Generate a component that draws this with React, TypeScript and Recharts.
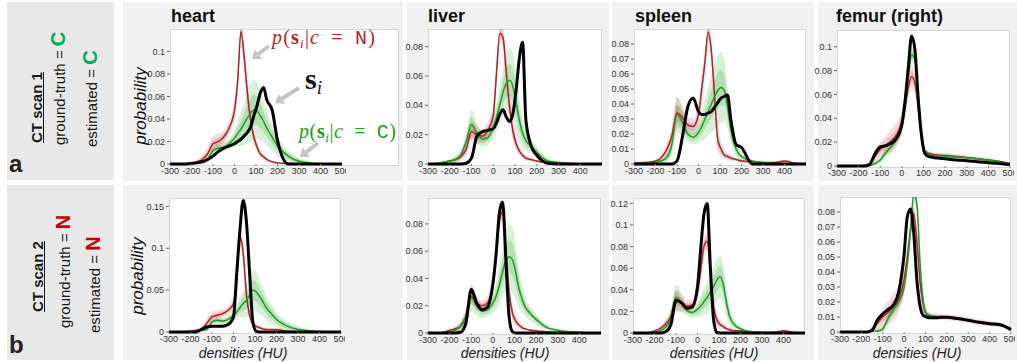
import { ComposedChart, Line, Area, XAxis, YAxis } from "recharts"

const densities = [-300, -250, -200, -175, -150, -125, -100, -75, -50, -25, 0, 15, 30, 45, 60, 75, 90, 105, 120, 135, 150, 175, 200, 250, 300, 350, 400, 450, 500]
const xTicks = [-300, -200, -100, 0, 100, 200, 300, 400, 500]
const xTicksCut = [-300, -200, -100, 0, 100, 200, 300, 400]

// ---- CT scan 1 ----
const heartA_red = [0, 0, 0.0006, 0.002, 0.004, 0.009, 0.018, 0.02, 0.024, 0.032, 0.048, 0.074, 0.118, 0.095, 0.063, 0.039, 0.024, 0.015, 0.009, 0.0065, 0.004, 0.002, 0.001, 0.0005, 0, 0, 0, 0, 0]
const heartA_redSpread = [0, 0, 0.001, 0.002, 0.004, 0.006, 0.007, 0.007, 0.006, 0.006, 0.008, 0.012, 0.006, 0.012, 0.012, 0.009, 0.006, 0.004, 0.003, 0.002, 0.002, 0.001, 0.001, 0.0005, 0, 0, 0, 0, 0]
const heartA_green = [0, 0, 0.0005, 0.001, 0.002, 0.004, 0.012, 0.014, 0.015, 0.018, 0.023, 0.027, 0.031, 0.036, 0.041, 0.045, 0.048, 0.047, 0.043, 0.038, 0.032, 0.024, 0.016, 0.007, 0.0025, 0.001, 0, 0, 0]
const heartA_greenSpread = [0, 0, 0.0005, 0.001, 0.002, 0.003, 0.004, 0.004, 0.004, 0.005, 0.007, 0.011, 0.015, 0.019, 0.023, 0.026, 0.027, 0.025, 0.022, 0.018, 0.015, 0.012, 0.009, 0.005, 0.003, 0.0015, 0.0005, 0, 0]
const heartA_scan = [0, 0, 0.0005, 0.001, 0.002, 0.004, 0.007, 0.011, 0.014, 0.016, 0.018, 0.02, 0.022, 0.025, 0.028, 0.033, 0.043, 0.052, 0.063, 0.068, 0.057, 0.048, 0.021, 0, 0, 0, 0, 0, 0]

const liverA_red = [0, 0.0005, 0.002, 0.003, 0.005, 0.01, 0.022, 0.02, 0.019, 0.023, 0.033, 0.062, 0.089, 0.086, 0.062, 0.039, 0.023, 0.014, 0.009, 0.006, 0.004, 0.003, 0.002, 0.001, 0.0005, 0, 0, 0, 0]
const liverA_redSpread = [0, 0, 0.001, 0.002, 0.003, 0.005, 0.007, 0.006, 0.005, 0.006, 0.008, 0.01, 0.006, 0.008, 0.012, 0.01, 0.007, 0.005, 0.003, 0.002, 0.002, 0.001, 0.001, 0.0005, 0, 0, 0, 0, 0]
const liverA_green = [0, 0.0005, 0.002, 0.003, 0.006, 0.015, 0.027, 0.021, 0.017, 0.018, 0.025, 0.032, 0.04, 0.049, 0.055, 0.057, 0.053, 0.042, 0.03, 0.021, 0.016, 0.012, 0.008, 0.002, 0.001, 0.0005, 0, 0, 0]
const liverA_greenSpread = [0, 0, 0.001, 0.002, 0.003, 0.006, 0.01, 0.007, 0.005, 0.005, 0.007, 0.01, 0.013, 0.016, 0.02, 0.022, 0.022, 0.02, 0.015, 0.01, 0.007, 0.005, 0.004, 0.002, 0.001, 0.0005, 0, 0, 0]
const liverA_scan = [0, 0, 0, 0, 0, 0.0005, 0.004, 0.019, 0.022, 0.023, 0.024, 0.028, 0.034, 0.037, 0.032, 0.029, 0.034, 0.05, 0.072, 0.083, 0.03, 0.012, 0.006, 0.0005, 0, 0, 0, 0, 0]

const spleenA_red = [0.0005, 0.001, 0.002, 0.004, 0.009, 0.018, 0.034, 0.031, 0.026, 0.025, 0.033, 0.05, 0.068, 0.088, 0.075, 0.045, 0.016, 0.01, 0.006, 0.005, 0.004, 0.003, 0.002, 0.0015, 0.001, 0.001, 0.002, 0.0005, 0]
const spleenA_redSpread = [0, 0, 0.001, 0.002, 0.004, 0.007, 0.01, 0.008, 0.005, 0.005, 0.008, 0.01, 0.008, 0.005, 0.008, 0.01, 0.008, 0.005, 0.003, 0.002, 0.002, 0.001, 0.001, 0.001, 0.0005, 0.0005, 0.001, 0, 0]
const spleenA_green = [0, 0.0005, 0.001, 0.002, 0.004, 0.012, 0.033, 0.028, 0.02, 0.018, 0.021, 0.025, 0.03, 0.035, 0.04, 0.045, 0.049, 0.051, 0.049, 0.038, 0.023, 0.01, 0.005, 0.002, 0.001, 0.0005, 0, 0, 0]
const spleenA_greenSpread = [0, 0, 0.0005, 0.001, 0.003, 0.006, 0.012, 0.009, 0.005, 0.005, 0.007, 0.01, 0.013, 0.016, 0.019, 0.022, 0.024, 0.024, 0.02, 0.014, 0.009, 0.005, 0.003, 0.001, 0.0005, 0, 0, 0, 0]
const spleenA_scan = [0, 0, 0, 0, 0, 0, 0.002, 0.018, 0.038, 0.044, 0.035, 0.033, 0.033, 0.034, 0.035, 0.038, 0.041, 0.044, 0.045, 0.046, 0.03, 0.013, 0.011, 0, 0, 0, 0, 0, 0]

const femurA_red = [0, 0, 0, 0.0005, 0.002, 0.008, 0.014, 0.017, 0.021, 0.026, 0.037, 0.05, 0.066, 0.075, 0.07, 0.05, 0.025, 0.013, 0.011, 0.01, 0.0095, 0.009, 0.0088, 0.008, 0.007, 0.006, 0.005, 0.004, 0.002]
const femurA_redSpread = [0, 0, 0, 0.001, 0.002, 0.005, 0.006, 0.008, 0.01, 0.01, 0.01, 0.01, 0.01, 0.01, 0.01, 0.01, 0.007, 0.003, 0.002, 0.002, 0.002, 0.002, 0.002, 0.002, 0.002, 0.002, 0.002, 0.001, 0.001]
const femurA_green = [0, 0, 0, 0, 0.0005, 0.002, 0.005, 0.011, 0.016, 0.022, 0.033, 0.05, 0.075, 0.093, 0.09, 0.06, 0.026, 0.012, 0.01, 0.009, 0.0088, 0.0085, 0.008, 0.0075, 0.007, 0.006, 0.005, 0.0035, 0.002]
const femurA_greenSpread = [0, 0, 0, 0, 0.001, 0.002, 0.003, 0.004, 0.004, 0.004, 0.005, 0.006, 0.006, 0.006, 0.006, 0.006, 0.005, 0.002, 0.001, 0.001, 0.001, 0.001, 0.001, 0.001, 0.001, 0.001, 0.001, 0.001, 0.0005]
const femurA_scan = [0, 0, 0, 0, 0.001, 0.01, 0.016, 0.017, 0.019, 0.023, 0.035, 0.055, 0.083, 0.109, 0.098, 0.058, 0.027, 0.011, 0.008, 0.0075, 0.007, 0.0065, 0.006, 0.005, 0.0045, 0.0035, 0.0028, 0.002, 0.001]

// ---- CT scan 2 ----
const heartB_red = [0, 0, 0.001, 0.002, 0.003, 0.01, 0.018, 0.02, 0.022, 0.026, 0.034, 0.062, 0.113, 0.095, 0.045, 0.02, 0.01, 0.007, 0.005, 0.004, 0.003, 0.003, 0.003, 0.001, 0, 0, 0, 0, 0]
const heartB_redSpread = [0, 0, 0.001, 0.002, 0.004, 0.006, 0.007, 0.006, 0.005, 0.005, 0.008, 0.014, 0.01, 0.014, 0.012, 0.007, 0.004, 0.003, 0.002, 0.002, 0.001, 0.001, 0.001, 0.0005, 0, 0, 0, 0, 0]
const heartB_green = [0, 0, 0.0005, 0.001, 0.002, 0.003, 0.012, 0.014, 0.013, 0.015, 0.02, 0.024, 0.029, 0.034, 0.038, 0.044, 0.05, 0.048, 0.043, 0.037, 0.03, 0.022, 0.015, 0.007, 0.003, 0.0015, 0.0005, 0, 0]
const heartB_greenSpread = [0, 0, 0.0005, 0.001, 0.002, 0.003, 0.004, 0.004, 0.004, 0.005, 0.007, 0.009, 0.012, 0.016, 0.02, 0.023, 0.025, 0.024, 0.021, 0.018, 0.015, 0.012, 0.009, 0.006, 0.004, 0.002, 0.001, 0, 0]
const heartB_scan = [0, 0, 0, 0, 0.003, 0.006, 0.007, 0.007, 0.007, 0.009, 0.018, 0.07, 0.122, 0.157, 0.132, 0.07, 0.012, 0.001, 0, 0, 0, 0, 0, 0, 0, 0, 0, 0, 0]

const liverB_red = [0, 0, 0.002, 0.003, 0.005, 0.012, 0.027, 0.022, 0.02, 0.022, 0.036, 0.056, 0.082, 0.089, 0.06, 0.03, 0.015, 0.009, 0.006, 0.004, 0.003, 0.002, 0.0015, 0.001, 0.0005, 0, 0, 0, 0]
const liverB_redSpread = [0, 0, 0.001, 0.002, 0.003, 0.005, 0.006, 0.005, 0.004, 0.005, 0.007, 0.009, 0.007, 0.007, 0.01, 0.009, 0.006, 0.004, 0.003, 0.002, 0.001, 0.001, 0.001, 0.0005, 0, 0, 0, 0, 0]
const liverB_green = [0, 0, 0.001, 0.002, 0.005, 0.012, 0.026, 0.02, 0.016, 0.017, 0.022, 0.027, 0.035, 0.045, 0.053, 0.056, 0.054, 0.045, 0.033, 0.025, 0.019, 0.014, 0.01, 0.004, 0.002, 0.001, 0.0005, 0, 0]
const liverB_greenSpread = [0, 0, 0.001, 0.002, 0.003, 0.006, 0.01, 0.007, 0.005, 0.005, 0.007, 0.01, 0.014, 0.018, 0.022, 0.024, 0.024, 0.02, 0.015, 0.01, 0.007, 0.005, 0.004, 0.002, 0.001, 0.0005, 0, 0, 0]
const liverB_scan = [0, 0, 0, 0, 0.0005, 0.007, 0.032, 0.022, 0.017, 0.019, 0.036, 0.058, 0.088, 0.096, 0.054, 0.012, 0.001, 0, 0, 0, 0, 0, 0, 0, 0, 0, 0, 0, 0]

const spleenB_red = [0, 0, 0.002, 0.004, 0.008, 0.015, 0.03, 0.028, 0.025, 0.026, 0.038, 0.058, 0.08, 0.085, 0.055, 0.025, 0.012, 0.008, 0.006, 0.004, 0.003, 0.002, 0.002, 0.001, 0.0005, 0.0005, 0.002, 0.0005, 0]
const spleenB_redSpread = [0, 0, 0.001, 0.002, 0.004, 0.007, 0.01, 0.008, 0.005, 0.005, 0.008, 0.012, 0.01, 0.008, 0.01, 0.01, 0.007, 0.004, 0.003, 0.002, 0.002, 0.001, 0.001, 0.001, 0.0005, 0.0005, 0.001, 0, 0]
const spleenB_green = [0, 0, 0.001, 0.002, 0.005, 0.013, 0.033, 0.028, 0.021, 0.019, 0.022, 0.025, 0.029, 0.033, 0.038, 0.043, 0.049, 0.052, 0.045, 0.028, 0.015, 0.007, 0.004, 0.001, 0.0005, 0, 0, 0, 0]
const spleenB_greenSpread = [0, 0, 0.0005, 0.001, 0.003, 0.006, 0.012, 0.009, 0.005, 0.005, 0.007, 0.01, 0.012, 0.014, 0.016, 0.018, 0.02, 0.02, 0.018, 0.013, 0.008, 0.004, 0.002, 0.001, 0.0005, 0, 0, 0, 0]
const spleenB_scan = [0, 0, 0, 0, 0.001, 0.007, 0.03, 0.028, 0.023, 0.024, 0.043, 0.078, 0.11, 0.12, 0.06, 0.012, 0.0005, 0, 0, 0, 0, 0, 0, 0, 0, 0, 0, 0, 0]

const femurB_red = [0, 0, 0, 0, 0.002, 0.006, 0.01, 0.013, 0.017, 0.022, 0.035, 0.05, 0.068, 0.079, 0.06, 0.033, 0.018, 0.012, 0.011, 0.0105, 0.0102, 0.01, 0.0098, 0.009, 0.0078, 0.0066, 0.0056, 0.0045, 0.0025]
const femurB_redSpread = [0, 0, 0, 0.001, 0.002, 0.004, 0.006, 0.008, 0.009, 0.009, 0.009, 0.009, 0.008, 0.008, 0.008, 0.008, 0.006, 0.003, 0.002, 0.002, 0.002, 0.002, 0.002, 0.002, 0.002, 0.002, 0.002, 0.001, 0.001]
const femurB_green = [0, 0, 0, 0, 0, 0.0005, 0.002, 0.009, 0.015, 0.02, 0.03, 0.045, 0.068, 0.092, 0.085, 0.045, 0.02, 0.012, 0.011, 0.0105, 0.0103, 0.01, 0.0097, 0.009, 0.0077, 0.0065, 0.0055, 0.0045, 0.0025]
const femurB_greenSpread = [0, 0, 0, 0, 0.001, 0.002, 0.003, 0.004, 0.004, 0.004, 0.005, 0.006, 0.006, 0.006, 0.006, 0.006, 0.005, 0.002, 0.001, 0.001, 0.001, 0.001, 0.001, 0.001, 0.001, 0.001, 0.001, 0.001, 0.0005]
const femurB_scan = [0, 0, 0, 0, 0.001, 0.008, 0.012, 0.015, 0.018, 0.027, 0.052, 0.077, 0.082, 0.066, 0.034, 0.017, 0.011, 0.01, 0.0095, 0.0095, 0.0095, 0.0098, 0.0098, 0.009, 0.0078, 0.0065, 0.0055, 0.0048, 0.0015]

const RED = "#b0232b"
const GREEN = "#1f9b22"
const FONT = '"Liberation Sans", Arial, sans-serif'
const SERIF = '"Liberation Serif", "DejaVu Serif", serif'

function buildRows(red: number[], redSpread: number[], green: number[], greenSpread: number[], scan: number[]) {
  return densities.map((x, i) => ({
    x,
    red: red[i],
    green: green[i],
    scan: scan[i],
    redOuter: [Math.max(0, red[i] - redSpread[i]), red[i] + redSpread[i]],
    redInner: [Math.max(0, red[i] - redSpread[i] / 2), red[i] + redSpread[i] / 2],
    greenOuter: [Math.max(0, green[i] - greenSpread[i]), green[i] + greenSpread[i]],
    greenInner: [Math.max(0, green[i] - greenSpread[i] / 2), green[i] + greenSpread[i] / 2],
  }))
}

type PlotSpec = {
  left: number; top: number; width: number; height: number; boxWidth?: number
  ymax: number; yTicks: number[]; xTicks: number[]; rows: any[]
}

const plots: PlotSpec[] = [
  { left: 170, top: 29, width: 172, height: 135, boxWidth: 229, ymax: 0.12, yTicks: [0, 0.02, 0.04, 0.06, 0.08, 0.1], xTicks,
    rows: buildRows(heartA_red, heartA_redSpread, heartA_green, heartA_greenSpread, heartA_scan) },
  { left: 428, top: 29, width: 174, height: 135, ymax: 0.092, yTicks: [0, 0.02, 0.04, 0.06, 0.08], xTicks: xTicksCut,
    rows: buildRows(liverA_red, liverA_redSpread, liverA_green, liverA_greenSpread, liverA_scan) },
  { left: 634, top: 29, width: 172, height: 135, ymax: 0.09, yTicks: [0, 0.01, 0.02, 0.03, 0.04, 0.05, 0.06, 0.07, 0.08], xTicks: xTicksCut,
    rows: buildRows(spleenA_red, spleenA_redSpread, spleenA_green, spleenA_greenSpread, spleenA_scan) },
  { left: 837, top: 30, width: 173, height: 136, ymax: 0.114, yTicks: [0, 0.02, 0.04, 0.06, 0.08, 0.1], xTicks,
    rows: buildRows(femurA_red, femurA_redSpread, femurA_green, femurA_greenSpread, femurA_scan) },
  { left: 169, top: 198, width: 172, height: 134, ymax: 0.16, yTicks: [0, 0.05, 0.1, 0.15], xTicks,
    rows: buildRows(heartB_red, heartB_redSpread, heartB_green, heartB_greenSpread, heartB_scan) },
  { left: 428, top: 198, width: 173, height: 135, ymax: 0.099, yTicks: [0, 0.02, 0.04, 0.06, 0.08], xTicks: xTicksCut,
    rows: buildRows(liverB_red, liverB_redSpread, liverB_green, liverB_greenSpread, liverB_scan) },
  { left: 633, top: 198, width: 172, height: 135, ymax: 0.125, yTicks: [0, 0.02, 0.04, 0.06, 0.08, 0.1, 0.12], xTicks: xTicksCut,
    rows: buildRows(spleenB_red, spleenB_redSpread, spleenB_green, spleenB_greenSpread, spleenB_scan) },
  { left: 840, top: 197, width: 171, height: 135, ymax: 0.09, yTicks: [0, 0.01, 0.02, 0.03, 0.04, 0.05, 0.06, 0.07, 0.08], xTicks,
    rows: buildRows(femurB_red, femurB_redSpread, femurB_green, femurB_greenSpread, femurB_scan) },
]

const tickStyle = { fontSize: 9, fill: "#333", fontFamily: FONT }

function Plot({ p }: { p: PlotSpec }) {
  const ml = 36, mt = 6, mr = 4, xh = 18
  return (
    <>
      <div style={{ position: "absolute", left: p.left, top: p.top, width: p.boxWidth ?? p.width, height: p.height + 2, background: "#fff", border: "1px solid #d6d6d6", boxSizing: "border-box" }} />
      <div style={{ position: "absolute", left: p.left - ml, top: p.top - mt, width: p.width + ml + mr, height: p.height + mt + xh }}>
        <ComposedChart width={p.width + ml + mr} height={p.height + mt + xh} data={p.rows} margin={{ top: mt, right: mr, bottom: 0, left: 0 }}>
          <XAxis type="number" dataKey="x" domain={[-300, 500]} ticks={p.xTicks} interval={0} height={xh}
            axisLine={false} tickSize={2} tickLine={{ stroke: "#888" }} tick={tickStyle} />
          <YAxis yAxisId="main" orientation="left" width={ml} domain={[0, p.ymax]} ticks={p.yTicks} interval={0}
            axisLine={false} tickSize={3} tickLine={{ stroke: "#666" }} tick={tickStyle} tickFormatter={(v: number) => String(v)} />
          <YAxis yAxisId="clip" orientation="right" width={0} hide domain={[0, p.ymax]} allowDataOverflow />
          <Area yAxisId="clip" type="monotone" dataKey="greenOuter" stroke="none" fill="#3cae3c" fillOpacity={0.2} isAnimationActive={false} />
          <Area yAxisId="clip" type="monotone" dataKey="greenInner" stroke="none" fill="#3cae3c" fillOpacity={0.24} isAnimationActive={false} />
          <Area yAxisId="clip" type="monotone" dataKey="redOuter" stroke="none" fill="#c84848" fillOpacity={0.18} isAnimationActive={false} />
          <Area yAxisId="clip" type="monotone" dataKey="redInner" stroke="none" fill="#c84848" fillOpacity={0.22} isAnimationActive={false} />
          <Line yAxisId="clip" type="monotone" dataKey="red" stroke={RED} strokeWidth={1.5} dot={false} activeDot={false} isAnimationActive={false} />
          <Line yAxisId="clip" type="monotone" dataKey="green" stroke={GREEN} strokeWidth={1.5} dot={false} activeDot={false} isAnimationActive={false} />
          <Line yAxisId="main" type="monotone" dataKey="scan" stroke="#000" strokeWidth={3} dot={false} activeDot={false} isAnimationActive={false} />
        </ComposedChart>
      </div>
    </>
  )
}

function Arrow({ x1, y1, x2, y2 }: { x1: number; y1: number; x2: number; y2: number }) {
  const a = Math.atan2(y2 - y1, x2 - x1)
  const hx = x2 - 8 * Math.cos(a), hy = y2 - 8 * Math.sin(a)
  const nx = -Math.sin(a) * 6, ny = Math.cos(a) * 6
  return (
    <g fill="#c4c4c4" stroke="#c4c4c4">
      <line x1={x1} y1={y1} x2={hx} y2={hy} strokeWidth={4} />
      <polygon points={`${x2},${y2} ${hx + nx},${hy + ny} ${hx - nx},${hy - ny}`} strokeWidth={0} />
    </g>
  )
}

function Rot({ left, top, children, size = 15 }: { left: number; top: number; children: any; size?: number }) {
  return (
    <div style={{ position: "absolute", left, top, transform: "rotate(-90deg)", transformOrigin: "0 0", whiteSpace: "nowrap",
      fontFamily: FONT, fontSize: size, lineHeight: "22px", color: "#1a1a1a" }}>{children}</div>
  )
}

const titles = [
  { text: "heart", left: 171 }, { text: "liver", left: 428 }, { text: "spleen", left: 635 }, { text: "femur (right)", left: 836 },
]
const xLabelCenters = [243, 505, 714, 917]

export default function App() {
  const panelBg = "#f1f1f1"
  const labelBg = "#e8e8e8"
  const cols = [[123, 403], [407, 609], [612, 814], [818, 1017]]
  return (
    <div style={{ position: "absolute", left: 0, top: 0, width: 1017, height: 362, background: "#fff", overflow: "hidden", fontFamily: FONT }}>
      <div style={{ position: "absolute", left: 7, top: 2, width: 107, height: 178, background: labelBg }} />
      <div style={{ position: "absolute", left: 7, top: 185, width: 107, height: 175, background: labelBg }} />
      {cols.map(([a, b], i) => (
        <div key={"ra" + i} style={{ position: "absolute", left: a, top: 2, width: b - a, height: 179, background: panelBg }} />
      ))}
      {cols.map(([a, b], i) => (
        <div key={"rb" + i} style={{ position: "absolute", left: a, top: 185, width: b - a, height: 175, background: panelBg }} />
      ))}

      {plots.map((p, i) => <Plot key={i} p={p} />)}

      {titles.map((t) => (
        <div key={t.text} style={{ position: "absolute", left: t.left, top: 7, height: 18, fontSize: 18, lineHeight: "18px", fontWeight: 700, color: "#111", whiteSpace: "nowrap" }}>{t.text}</div>
      ))}
      {xLabelCenters.map((c) => (
        <div key={c} style={{ position: "absolute", left: c - 60, top: 344, width: 120, textAlign: "center", fontSize: 14, lineHeight: "18px", fontStyle: "italic", color: "#222" }}>densities (HU)</div>
      ))}
      {[[141, 106], [138, 276]].map(([cx, cy]) => (
        <div key={cy} style={{ position: "absolute", left: cx - 50, top: cy - 10, width: 100, height: 20, lineHeight: "20px", textAlign: "center", fontSize: 17, fontStyle: "italic", color: "#111", transform: "rotate(-90deg)" }}>probability</div>
      ))}

      {/* row labels */}
      <Rot left={26} top={143}><b style={{ textDecoration: "underline" }}>CT scan 1</b></Rot>
      <Rot left={47} top={145}>ground-truth = <b style={{ fontSize: 20, color: "#00b050" }}>C</b></Rot>
      <Rot left={79} top={147}>estimated = <b style={{ fontSize: 20, color: "#00b050" }}>C</b></Rot>
      <Rot left={27} top={312}><b style={{ textDecoration: "underline" }}>CT scan 2</b></Rot>
      <Rot left={52} top={328}>ground-truth = <b style={{ fontSize: 20, color: "#c00000" }}>N</b></Rot>
      <Rot left={82} top={333}>estimated = <b style={{ fontSize: 20, color: "#c00000" }}>N</b></Rot>
      <div style={{ position: "absolute", left: 9, top: 152, fontSize: 24, lineHeight: "24px", fontWeight: 700, color: "#222" }}>a</div>
      <div style={{ position: "absolute", left: 9, top: 333, fontSize: 24, lineHeight: "24px", fontWeight: 700, color: "#222" }}>b</div>

      {/* annotations in the heart panel */}
      <svg width={1017} height={362} style={{ position: "absolute", left: 0, top: 0, pointerEvents: "none" }}>
        <Arrow x1={269} y1={46} x2={252} y2={59} />
        <Arrow x1={299} y1={88} x2={275} y2={103} />
        <Arrow x1={318} y1={143} x2={300} y2={157} />
      </svg>
      <div style={{ position: "absolute", left: 272, top: 27, fontFamily: SERIF, fontSize: 20, lineHeight: "20px", color: RED, whiteSpace: "nowrap", letterSpacing: 1.2 }}>
        <i>p</i>(<b>s</b><span style={{ fontSize: 13, position: "relative", top: 4 }}><i>i</i></span>|<i>c</i>{"\u2002=\u2002"}<span style={{ fontFamily: '"Liberation Mono", monospace' }}>N</span>)
      </div>
      <div style={{ position: "absolute", left: 305, top: 64, fontFamily: SERIF, fontSize: 30, lineHeight: "30px", color: "#111", whiteSpace: "nowrap" }}>
        <b>s</b><span style={{ fontSize: 19, position: "relative", top: 5 }}><i>i</i></span>
      </div>
      <div style={{ position: "absolute", left: 299, top: 121, fontFamily: SERIF, fontSize: 20, lineHeight: "20px", color: GREEN, whiteSpace: "nowrap", letterSpacing: 0.6 }}>
        <i>p</i>(<b>s</b><span style={{ fontSize: 13, position: "relative", top: 4 }}><i>i</i></span>|<i>c</i>{"\u2002=\u2002"}<span style={{ fontFamily: '"Liberation Mono", monospace' }}>C</span>)
      </div>
    </div>
  )
}
